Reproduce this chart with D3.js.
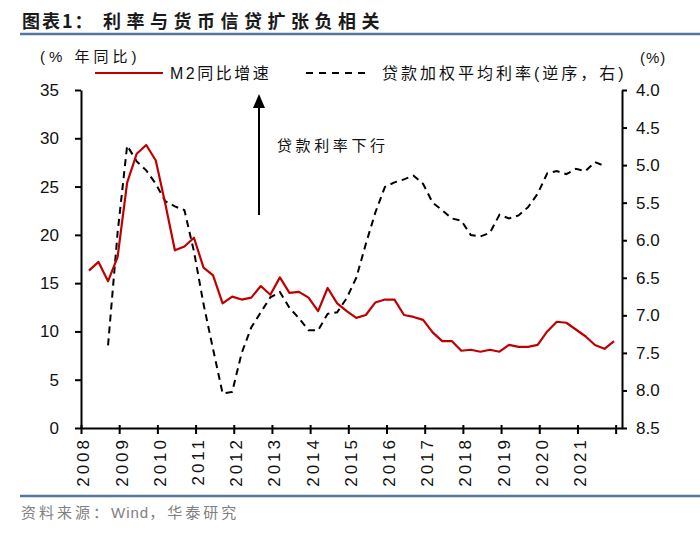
<!DOCTYPE html>
<html>
<head>
<meta charset="utf-8">
<script src="https://cdn.jsdelivr.net/npm/d3@7/dist/d3.min.js"></script>
<style>
body { margin: 0; background: #fff; }
svg text { font-family: "Liberation Sans", Arial, "Noto Sans CJK SC", sans-serif; }
</style>
</head>
<body>
<svg id="chart" width="700" height="535"></svg>
<script>
// year labels on the x axis
var years = ["2008", "2009", "2010", "2011", "2012", "2013", "2014",
             "2015", "2016", "2017", "2018", "2019", "2020", "2021"];
var quarterNames = ["Q1", "Q2", "Q3", "Q4"];

// M2 yoy growth (%), quarterly 2008Q1 .. 2021Q4
var m2Growth = [
    16.3, 17.2, 15.2, 17.7,
    25.4, 28.4, 29.3, 27.7,
    23.2, 18.4, 18.8, 19.7,
    16.6, 15.8, 12.9, 13.6,
    13.3, 13.5, 14.7, 13.8,
    15.6, 14.0, 14.1, 13.5,
    12.1, 14.5, 12.9, 12.1,
    11.4, 11.7, 13.0, 13.3,
    13.3, 11.7, 11.5, 11.2,
    9.9, 9.0, 9.0, 8.0,
    8.1, 7.9, 8.1, 7.9,
    8.6, 8.4, 8.4, 8.6,
    10.0, 11.0, 10.9, 10.2,
    9.5, 8.6, 8.2, 9.0
];

// weighted average loan rate (%), right axis reversed
var loanRate = [
    null, null, 7.40, 5.90,
    4.74, 4.95, 5.07, 5.25,
    5.48, 5.55, 5.60, 6.15,
    6.85, 7.45, 8.04, 8.02,
    7.50, 7.16, 6.96, 6.76,
    6.69, 6.90, 7.04, 7.20,
    7.20, 6.98, 6.96, 6.77,
    6.50, 6.05, 5.63, 5.29,
    5.23, 5.19, 5.14, 5.25,
    5.50, 5.60, 5.71, 5.74,
    5.93, 5.95, 5.90, 5.66,
    5.71, 5.67, 5.56, 5.38,
    5.11, 5.08, 5.12, 5.05,
    5.08, 4.96, 5.01, null
];

var leftTicks = [0, 5, 10, 15, 20, 25, 30, 35];
var rightTicks = [4.0, 4.5, 5.0, 5.5, 6.0, 6.5, 7.0, 7.5, 8.0, 8.5];

// category list: one entry per quarter
var quarters = [];
years.forEach(function(y) {
    quarterNames.forEach(function(q) { quarters.push(y + q); });
});

// months since Jan 2008, middle of the quarter-end month
function quarterMonth(label) {
    var y = +label.substr(0, 4), q = +label.substr(5, 1);
    return (y - 2008) * 12 + q * 3 - 0.5;
}

var svg = d3.select("#chart");
// plot box (note: "top" is a window global, so use other names)
var plotL = 81, plotR = 622, plotT = 90, plotB = 428;

var x = d3.scaleLinear().domain([0, 170]).range([plotL, plotR]);
var yL = d3.scaleLinear().domain([0, 35]).range([plotB, plotT]);
var yR = d3.scaleLinear().domain([4.0, 8.5]).range([plotT, plotB]);

// title + blue rules
svg.append("text").attr("x", 22).attr("y", 28)
    .style("font-family", "'Noto Sans CJK SC', sans-serif")
    .style("font-size", "18px").style("font-weight", "bold").style("letter-spacing", "2px")
    .attr("fill", "#1a1a1a").text("图表1：");
svg.append("text").attr("x", 103).attr("y", 28)
    .style("font-family", "'Noto Sans CJK SC', sans-serif")
    .style("font-size", "18px").style("font-weight", "bold").style("letter-spacing", "5.5px")
    .attr("fill", "#1a1a1a").text("利率与货币信贷扩张负相关");
svg.append("line").attr("x1", 20).attr("x2", 700).attr("y1", 34).attr("y2", 34)
    .attr("stroke", "#5476a0").attr("stroke-width", 2.5);
svg.append("line").attr("x1", 20).attr("x2", 700).attr("y1", 496).attr("y2", 496)
    .attr("stroke", "#5476a0").attr("stroke-width", 2.5);

// source
var src = svg.append("text").attr("x", 21).attr("y", 518)
    .style("font-size", "15px").style("letter-spacing", "3px")
    .attr("fill", "#808080");
src.append("tspan").text("资料来源：");
src.append("tspan").style("letter-spacing", "1px").text("Wind");
src.append("tspan").text("，华泰研究");

// unit labels
svg.append("text").attr("x", 40).attr("y", 62)
    .style("font-size", "15px").style("letter-spacing", "4px")
    .attr("fill", "#111").text("(% 年同比)");
svg.append("text").attr("x", 640).attr("y", 63)
    .style("font-size", "15px").style("letter-spacing", "1px")
    .attr("fill", "#111").text("(%)");

// axes
var axisL = svg.append("g").attr("transform", "translate(" + plotL + ",0)")
    .call(d3.axisLeft(yL).tickValues(leftTicks).tickSize(6).tickSizeOuter(0).tickPadding(16));
var axisR = svg.append("g").attr("transform", "translate(" + plotR + ",0)")
    .call(d3.axisRight(yR).tickValues(rightTicks).tickSize(5).tickSizeOuter(0).tickPadding(9)
        .tickFormat(d3.format(".1f")));
var xTicks = d3.range(0, 169, 12);
var axisX = svg.append("g").attr("transform", "translate(0," + plotB + ")")
    .call(d3.axisBottom(x).tickValues(xTicks).tickSize(6).tickSizeOuter(0)
        .tickFormat(function(d) { return years[d / 12] || ""; }));

[axisL, axisR, axisX].forEach(function(a) {
    a.select(".domain").attr("stroke", "#000").attr("stroke-width", 2);
    a.selectAll(".tick line").attr("stroke", "#000").attr("stroke-width", 2);
    a.selectAll("text").attr("fill", "#111").style("font-size", "17px")
        .style("font-family", "'Liberation Sans', Arial, sans-serif");
});
// cross ticks on x axis, rotated year labels
axisX.selectAll(".tick line").attr("y1", -3).attr("y2", 6);
axisX.selectAll(".tick text")
    .attr("transform", "rotate(-90)")
    .attr("text-anchor", "end")
    .attr("x", -9).attr("y", 2).attr("dy", "0.35em")
    .style("letter-spacing", "3px");

// series
var m2Line = d3.line()
    .x(function(d, i) { return x(quarterMonth(quarters[i])); })
    .y(function(d) { return yL(d); });
var rateLine = d3.line()
    .defined(function(d) { return d != null; })
    .x(function(d, i) { return x(quarterMonth(quarters[i])); })
    .y(function(d) { return yR(d); });

svg.append("path").datum(loanRate).attr("d", rateLine)
    .attr("fill", "none").attr("stroke", "#000").attr("stroke-width", 2)
    .attr("stroke-dasharray", "7,5");
svg.append("path").datum(m2Growth).attr("d", m2Line)
    .attr("fill", "none").attr("stroke", "#c00000").attr("stroke-width", 2.2)
    .attr("stroke-linejoin", "round");

// legend
svg.append("line").attr("x1", 95).attr("x2", 163).attr("y1", 73).attr("y2", 73)
    .attr("stroke", "#c00000").attr("stroke-width", 2.2);
svg.append("text").attr("x", 170).attr("y", 79)
    .style("font-size", "16px").style("letter-spacing", "2.5px")
    .attr("fill", "#111").text("M2同比增速");
svg.append("line").attr("x1", 306).attr("x2", 368).attr("y1", 73).attr("y2", 73)
    .attr("stroke", "#000").attr("stroke-width", 2).attr("stroke-dasharray", "7,6");
svg.append("text").attr("x", 382).attr("y", 79)
    .style("font-size", "16px").style("letter-spacing", "3px")
    .attr("fill", "#111").text("贷款加权平均利率(逆序，右)");

// annotation arrow
svg.append("line").attr("x1", 259).attr("x2", 259).attr("y1", 215).attr("y2", 106)
    .attr("stroke", "#000").attr("stroke-width", 2);
svg.append("path").attr("d", "M259,94 L265,108 L253,108 Z").attr("fill", "#000");
svg.append("text").attr("x", 277).attr("y", 151)
    .style("font-size", "15px").style("letter-spacing", "3.6px")
    .attr("fill", "#111").text("贷款利率下行");
</script>
</body>
</html>
